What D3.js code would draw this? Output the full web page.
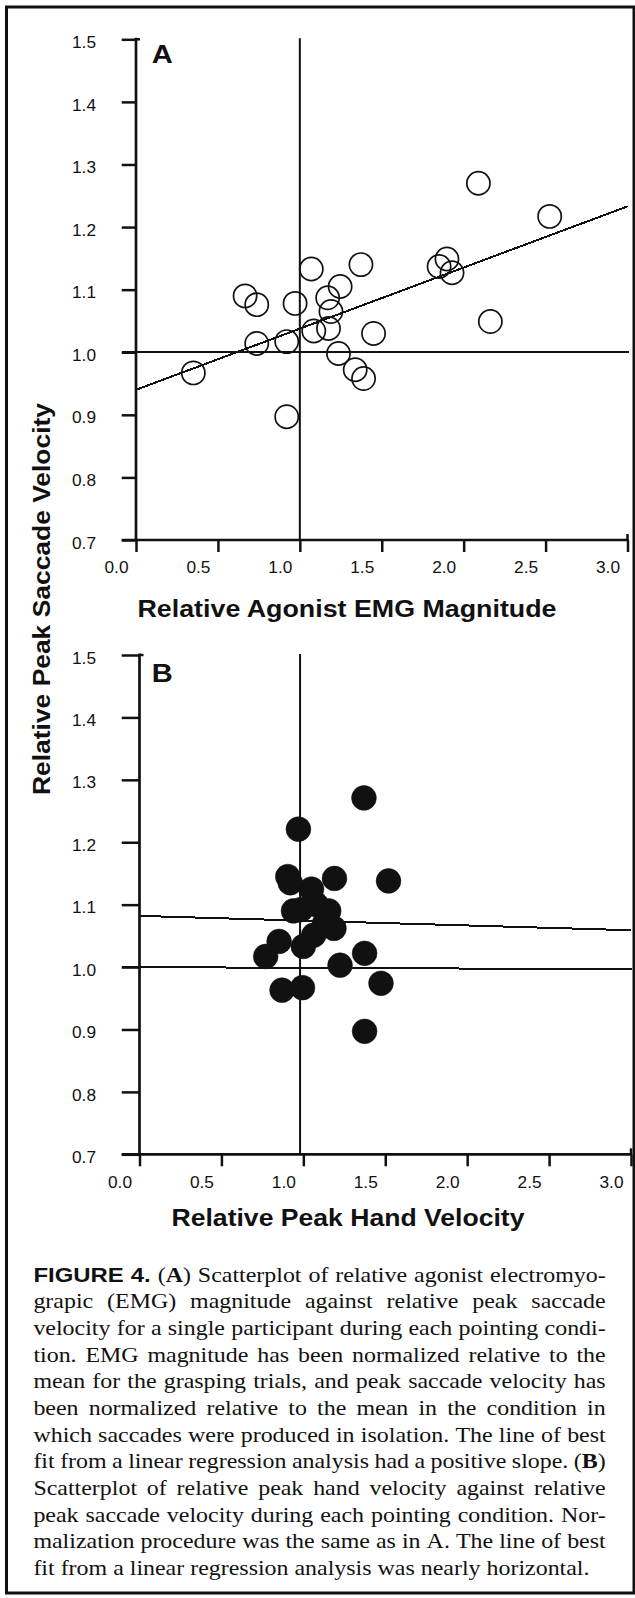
<!DOCTYPE html>
<html><head><meta charset="utf-8">
<script src="https://cdn.jsdelivr.net/npm/d3@7"></script>
<style>body{margin:0;background:#fff}svg{display:block}</style>
</head><body>
<svg id="chart" width="635" height="1598"></svg>
<script>
// ---------- data ----------
const xTickValues = [0, 0.5, 1.0, 1.5, 2.0, 2.5, 3.0];
const yTickValues = [0.7, 0.8, 0.9, 1.0, 1.1, 1.2, 1.3, 1.4, 1.5];
const panelLabels = ["A", "B"];
const xTitleA = "Relative Agonist EMG Magnitude";
const xTitleB = "Relative Peak Hand Velocity";
const yTitle = "Relative Peak Saccade Velocity";

// Panel A: relative agonist EMG magnitude vs relative peak saccade velocity (open circles)
const emgA =      [0.35, 0.666, 0.737, 0.737, 0.92, 0.92, 0.971, 1.07, 1.085, 1.17, 1.19, 1.175, 1.246, 1.373, 1.236, 1.338, 1.389, 1.45, 1.85, 1.898, 1.929, 2.09, 2.525, 2.163];
const saccadeA =  [0.967, 1.09, 1.076, 1.014, 1.017, 0.897, 1.078, 1.133, 1.034, 1.087, 1.065, 1.038, 1.105, 1.14, 0.998, 0.972, 0.958, 1.030, 1.137, 1.149, 1.127, 1.27, 1.217, 1.049];
// Panel B: relative peak hand velocity vs relative peak saccade velocity (filled circles)
const handB =     [1.37, 0.97, 0.905, 0.92, 1.19, 1.52, 1.05, 0.94, 0.985, 1.155, 1.08, 1.187, 1.13, 1.063, 1.0, 0.852, 0.77, 1.224, 1.374, 1.474, 0.87, 0.995, 1.374];
const saccadeB =  [1.271, 1.221, 1.145, 1.135, 1.142, 1.138, 1.125, 1.090, 1.092, 1.090, 1.10, 1.062, 1.07, 1.051, 1.033, 1.041, 1.017, 1.003, 1.022, 0.974, 0.963, 0.967, 0.897];

// regression lines (value at x = 0 and x = 3)
const fitX = [0, 3];
const fitA = [0.940, 1.233];
const fitB = [1.082, 1.059];
// reference lines
const refA = {x: 1.0, y: [1.0, 1.0]};
const refB = {x: 0.98, y: [1.0, 0.9965]};

const captionLines = [
  "[FIGURE] [4.] (*A*) Scatterplot of relative agonist electromyo-",
  "grapic (EMG) magnitude against relative peak saccade",
  "velocity for a single participant during each pointing condi-",
  "tion. EMG magnitude has been normalized relative to the",
  "mean for the grasping trials, and peak saccade velocity has",
  "been normalized relative to the mean in the condition in",
  "which saccades were produced in isolation. The line of best",
  "fit from a linear regression analysis had a positive slope. (*B*)",
  "Scatterplot of relative peak hand velocity against relative",
  "peak saccade velocity during each pointing condition. Nor-",
  "malization procedure was the same as in A. The line of best",
  "fit from a linear regression analysis was nearly horizontal."
];

// ---------- drawing ----------
const SANS = "'Liberation Sans', Arial, Helvetica, sans-serif";
const SERIF = "'Liberation Serif', 'Times New Roman', serif";
const INK = "#111";
const svg = d3.select("#chart");

svg.append("rect").attr("x", 6.5).attr("y", 7).attr("width", 627.5).attr("height", 1586)
  .attr("fill", "none").attr("stroke", INK).attr("stroke-width", 3);

function drawPanel(cfg) {
  const g = svg.append("g");
  const x = d3.scaleLinear().domain([0, 3]).range([cfg.x0, cfg.x1]);
  const y = d3.scaleLinear().domain([0.7, 1.5]).range([cfg.yBot, cfg.yTop]);
  const left = 121.7;

  // y axis
  const ya = g.append("g").attr("transform", `translate(${cfg.x0},0)`)
    .call(d3.axisLeft(y).tickValues(yTickValues).tickSize(cfg.x0 - left).tickSizeOuter(0)
      .tickPadding(cfg.x0 - 96 - (cfg.x0 - left)).tickFormat(d3.format(".1f")));
  ya.select(".domain").remove();
  ya.selectAll("line").attr("stroke", INK).attr("stroke-width", 2.5);
  ya.selectAll("text").attr("font-family", SANS).attr("font-size", 16).attr("fill", INK)
    .attr("dy", "0.32em").attr("y", 3)
    .attr("textLength", 24).attr("lengthAdjust", "spacingAndGlyphs");
  // y axis line
  g.append("line").attr("x1", cfg.x0).attr("x2", cfg.x0).attr("y1", y(1.5) - 1.5).attr("y2", cfg.yBot)
    .attr("stroke", INK).attr("stroke-width", 2.7);
  g.append("line").attr("x1", cfg.x0).attr("x2", cfg.x0 + 4).attr("y1", y(1.5)).attr("y2", y(1.5))
    .attr("stroke", INK).attr("stroke-width", 2.5);

  // x axis
  const xa = g.append("g").attr("transform", `translate(0,${cfg.yBot})`)
    .call(d3.axisBottom(x).tickValues(xTickValues).tickSize(12).tickSizeOuter(0).tickFormat(d3.format(".1f")));
  xa.select(".domain").remove();
  xa.selectAll("line").attr("stroke", INK).attr("stroke-width", 2.5);
  xa.selectAll("text").attr("font-family", SANS).attr("font-size", 16).attr("fill", INK)
    .attr("x", -20).attr("y", cfg.xLabelDy).attr("dy", 0)
    .attr("textLength", 24).attr("lengthAdjust", "spacingAndGlyphs");
  g.append("line").attr("x1", left).attr("x2", x(3) + 1).attr("y1", cfg.yBot).attr("y2", cfg.yBot)
    .attr("stroke", INK).attr("stroke-width", 2.7);
  g.append("line").attr("x1", x(3)).attr("x2", x(3)).attr("y1", cfg.yBot - 6).attr("y2", cfg.yBot)
    .attr("stroke", INK).attr("stroke-width", 2.5);

  // reference lines
  g.append("line").attr("x1", x(cfg.ref.x)).attr("x2", x(cfg.ref.x)).attr("y1", y(1.5) - 1).attr("y2", cfg.yBot)
    .attr("stroke", INK).attr("stroke-width", 2);
  g.append("line").attr("x1", left).attr("x2", x(3) + 1).attr("y1", y(cfg.ref.y[0])).attr("y2", y(cfg.ref.y[1]))
    .attr("stroke", INK).attr("stroke-width", 2).attr("shape-rendering", "crispEdges");

  // regression line
  g.append("line").attr("x1", x(fitX[0])).attr("x2", x(fitX[1]))
    .attr("y1", y(cfg.fit[0])).attr("y2", y(cfg.fit[1]))
    .attr("stroke", INK).attr("stroke-width", 2).attr("shape-rendering", "crispEdges");

  // points
  const pts = cfg.xs.map((v, i) => [v, cfg.ys[i]]);
  g.append("g").selectAll("circle").data(pts).join("circle")
    .attr("cx", d => x(d[0])).attr("cy", d => y(d[1]))
    .attr("r", cfg.filled ? 12.4 : 11.6)
    .attr("fill", cfg.filled ? INK : "none")
    .attr("stroke", INK).attr("stroke-width", cfg.filled ? 0.5 : 1.7);

  // panel letter
  g.append("text").attr("x", 151.7).attr("y", cfg.labelY).text(cfg.label)
    .attr("font-family", SANS).attr("font-weight", "bold").attr("font-size", 25.5).attr("fill", INK)
    .attr("textLength", 21).attr("lengthAdjust", "spacingAndGlyphs");

  // x title
  g.append("text").attr("x", cfg.titleX).attr("y", cfg.titleY).attr("text-anchor", "middle")
    .text(cfg.title).attr("font-family", SANS).attr("font-weight", "bold").attr("font-size", 23).attr("fill", INK)
    .attr("textLength", cfg.titleLen).attr("lengthAdjust", "spacingAndGlyphs");
}

drawPanel({x0: 136, x1: 627.5, yTop: 39.3, yBot: 540, xs: emgA, ys: saccadeA, fit: fitA, ref: refA,
  filled: false, label: panelLabels[0], labelY: 63.3, title: xTitleA, titleX: 347, titleY: 616.5, titleLen: 419, xLabelDy: 33});
drawPanel({x0: 139.5, x1: 631, yTop: 655, yBot: 1154.3, xs: handB, ys: saccadeB, fit: fitB, ref: refB,
  filled: true, label: panelLabels[1], labelY: 681.7, title: xTitleB, titleX: 348, titleY: 1226, titleLen: 353, xLabelDy: 34});

// y title
svg.append("text").attr("transform", "translate(50,599) rotate(-90)").attr("text-anchor", "middle")
  .text(yTitle).attr("font-family", SANS).attr("font-weight", "bold").attr("font-size", 23).attr("fill", INK)
  .attr("textLength", 392).attr("lengthAdjust", "spacingAndGlyphs");

// caption (justified)
const cap = svg.append("g").attr("transform", "translate(33.4,0) scale(1.14,1)")
  .attr("font-family", SERIF).attr("font-size", 21).attr("fill", INK);
const capWidth = (605.7 - 33.4) / 1.14;
function wordNode(word, yy) {
  const t = cap.append("text").attr("y", yy);
  if (/^\[.*\]$/.test(word)) {
    t.append("tspan").attr("font-family", SANS).attr("font-weight", "bold").text(word.slice(1, -1));
  } else {
    word.split("*").forEach((p, i) => { if (p) t.append("tspan").attr("font-weight", i % 2 ? "bold" : "normal").text(p); });
  }
  return t;
}
captionLines.forEach((line, li) => {
  const yy = 1281.7 + li * 26.66;
  const words = line.split(" ");
  const nodes = words.map(w => wordNode(w, yy));
  const widths = nodes.map(n => n.node().getComputedTextLength());
  const total = d3.sum(widths);
  const last = li === captionLines.length - 1;
  const gap = last ? 21 * 0.25 : (capWidth - total) / (words.length - 1);
  let xx = 0;
  nodes.forEach((n, i) => { n.attr("x", xx); xx += widths[i] + gap; });
});
</script>
</body></html>
